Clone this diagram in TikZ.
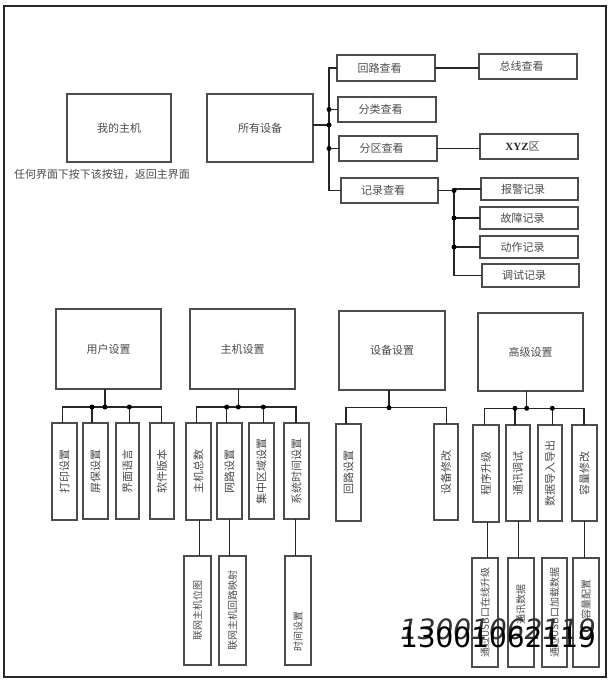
\documentclass[tikz,border=0pt]{standalone}
\usepackage{fontspec}
\setmainfont{Liberation Serif}
\newfontfamily\cjk{Noto Sans CJK SC}
\newfontfamily\wm{DejaVu Sans}
\begin{document}
\begin{tikzpicture}[x=1pt,y=-1pt,
  box/.style={draw=black!70, line width=1.1pt, fill=white, inner sep=0pt, outer sep=0pt,
    font=\cjk\fontsize{11}{13}\selectfont, text=black!70},
  tbox/.style={box, execute at end node={\hspace*{13pt}}},
  vlab/.style={rotate=90, font=\cjk\fontsize{11}{13}\selectfont, text=black!70, inner sep=0pt},
  slab/.style={rotate=90, font=\cjk\fontsize{10}{12}\selectfont, text=black!70, inner sep=0pt},
  wire/.style={draw=black!85, line width=1.2pt},
  jdot/.style={circle, fill=black, inner sep=0pt, minimum size=5pt}
]
\useasboundingbox (0,0) rectangle (615,681);
\draw[line width=1.5pt, black!85] (4,6) rectangle (606,677);

% ---------- top ----------
\node[box, minimum width=104pt, minimum height=68pt] (host) at (119,128) {我的主机};
\node[font=\cjk\fontsize{11}{13}\selectfont, text=black!70, inner sep=0pt] (cap) at (102,174) {任何界面下按下该按钮，返回主界面};
\node[box, minimum width=106pt, minimum height=68pt] (all) at (260,128) {所有设备};

\node[tbox, minimum width=98pt, minimum height=26pt] (loop) at (386,68) {回路查看};
\node[tbox, minimum width=98pt, minimum height=25pt] (bus) at (528,66.5) {总线查看};
\node[tbox, minimum width=98pt, minimum height=25pt] (cls) at (387,109.5) {分类查看};
\node[tbox, minimum width=98pt, minimum height=25pt] (zone) at (388,148.5) {分区查看};
\node[tbox, minimum width=98pt, minimum height=25pt] (xyz) at (529,146.5) {{\rmfamily\bfseries\color{black!85}XYZ}区};
\node[tbox, minimum width=97pt, minimum height=25pt] (rec) at (389.5,190.5) {记录查看};
\node[tbox, minimum width=97pt, minimum height=22pt] (alarm) at (529.5,189) {报警记录};
\node[tbox, minimum width=98pt, minimum height=22pt] (fault) at (529,218) {故障记录};
\node[tbox, minimum width=98pt, minimum height=22pt] (act) at (529,247) {动作记录};
\node[tbox, minimum width=97pt, minimum height=23pt] (dbg) at (530.5,275.5) {调试记录};

\coordinate (tb) at (329,68);
\coordinate (tf) at (329,125);
\draw[wire] (all.east |- tf) -- (tf);
\draw[wire] (loop.west) -- (loop.west -| tb) -- (rec.west -| tb) -- (rec.west);
\draw[wire] (cls.west -| tb) -- (cls.west);
\draw[wire] (zone.west -| tb) -- (zone.west);
\node[jdot] (dt1) at (cls.west -| tb) {};
\node[jdot] (dt2) at (tf) {};
\node[jdot] (dt3) at (zone.west -| tb) {};
\draw[wire] (loop.east) -- (loop.east -| bus.west);
\draw[wire] (zone.east) -- (zone.east -| xyz.west);

\coordinate (sb) at (454,190);
\draw[wire] (rec.east) -- (rec.east -| sb) -- (dbg.west -| sb) -- (dbg.west);
\draw[wire] (alarm.west -| sb) -- (alarm.west);
\draw[wire] (fault.west -| sb) -- (fault.west);
\draw[wire] (act.west -| sb) -- (act.west);
\node[jdot] (dr1) at (rec.east -| sb) {};
\node[jdot] (dr2) at (fault.west -| sb) {};
\node[jdot] (dr3) at (act.west -| sb) {};

% ---------- middle parents ----------
\node[box, minimum width=105pt, minimum height=80pt] (user) at (108.5,349) {用户设置};
\node[box, minimum width=105pt, minimum height=80pt] (hset) at (242.5,349) {主机设置};
\node[box, minimum width=106pt, minimum height=79pt] (dset) at (392,350.5) {设备设置};
\node[box, minimum width=105pt, minimum height=78pt] (aset) at (530.5,352) {高级设置};

% ---------- user group ----------
\node[box, minimum width=25pt, minimum height=97pt] (c1) at (64.5,471.5) {};
\node[box, minimum width=25pt, minimum height=96pt] (c2) at (95.5,471) {};
\node[box, minimum width=23pt, minimum height=96pt] (c3) at (127.5,471) {};
\node[box, minimum width=24pt, minimum height=96pt] (c4) at (162,471) {};
\node[vlab] (c1t) at (c1) {打印设置};
\node[vlab] (c2t) at (c2) {屏保设置};
\node[vlab] (c3t) at (c3) {界面语言};
\node[vlab] (c4t) at (c4) {软件版本};
\coordinate (ub) at (105,407);
\coordinate (u1) at (62.3,407);
\coordinate (u2) at (92,407);
\coordinate (u3) at (129.3,407);
\coordinate (u4) at (161.7,407);
\draw[wire] (ub |- user.south) -- (ub);
\draw[wire] (u1 |- c1.north) -- (u1) -- (u4) -- (u4 |- c4.north);
\draw[wire] (u2) -- (u2 |- c2.north);
\draw[wire] (u3) -- (u3 |- c3.north);
\node[jdot] (ud1) at (u2) {};
\node[jdot] (ud2) at (ub) {};
\node[jdot] (ud3) at (u3) {};

% ---------- host group ----------
\node[box, minimum width=25pt, minimum height=97pt] (h1) at (198.5,471.5) {};
\node[box, minimum width=25pt, minimum height=96pt] (h2) at (229.5,471) {};
\node[box, minimum width=25pt, minimum height=96pt] (h3) at (261.5,471) {};
\node[box, minimum width=25pt, minimum height=96pt] (h4) at (296.5,471) {};
\node[vlab] (h1t) at (h1) {主机总数};
\node[vlab] (h2t) at (h2) {网路设置};
\node[vlab] (h3t) at (h3) {集中区域设置};
\node[vlab] (h4t) at (h4) {系统时间设置};
\coordinate (hb) at (238.3,407);
\coordinate (g1) at (196.7,407);
\coordinate (g2) at (226.7,407);
\coordinate (g3) at (263.3,407);
\coordinate (g4) at (296,407);
\draw[wire] (hb |- hset.south) -- (hb);
\draw[wire] (g1 |- h1.north) -- (g1) -- (g4) -- (g4 |- h4.north);
\draw[wire] (g2) -- (g2 |- h2.north);
\draw[wire] (g3) -- (g3 |- h3.north);
\node[jdot] (hd1) at (g2) {};
\node[jdot] (hd2) at (hb) {};
\node[jdot] (hd3) at (g3) {};

\node[box, minimum width=27pt, minimum height=109pt] (s1) at (197.5,610.5) {};
\node[box, minimum width=27pt, minimum height=109pt] (s2) at (232.5,610.5) {};
\node[box, minimum width=26pt, minimum height=109pt] (s4) at (298,610.5) {};
\node[slab] (s1t) at (s1) {联网主机位图};
\node[slab] (s2t) at (s2) {联网主机回路映射};
\node[slab] (s4t) at (298,631) {时间设置};
\coordinate (k1) at (199.3,540);
\coordinate (k2) at (229.3,540);
\coordinate (k4) at (295.7,540);
\draw[wire] (k1 |- h1.south) -- (k1 |- s1.north);
\draw[wire] (k2 |- h2.south) -- (k2 |- s2.north);
\draw[wire] (k4 |- h4.south) -- (k4 |- s4.north);

% ---------- device group ----------
\node[box, minimum width=25pt, minimum height=97pt] (d1) at (348.5,472.5) {};
\node[box, minimum width=24pt, minimum height=96pt] (d2) at (446,472) {};
\node[vlab] (d1t) at (d1) {回路设置};
\node[vlab] (d2t) at (d2) {设备修改};
\coordinate (db) at (389,407.7);
\coordinate (e1) at (346,407.7);
\coordinate (e2) at (446.7,407.7);
\draw[wire] (db |- dset.south) -- (db);
\draw[wire] (e1 |- d1.north) -- (e1) -- (e2) -- (e2 |- d2.north);
\node[jdot] (dd1) at (db) {};

% ---------- advanced group ----------
\node[box, minimum width=26pt, minimum height=97pt] (a1) at (486,473.5) {};
\node[box, minimum width=24pt, minimum height=96pt] (a2) at (518,473) {};
\node[box, minimum width=24pt, minimum height=96pt] (a3) at (550,473) {};
\node[box, minimum width=25pt, minimum height=96pt] (a4) at (584.5,473) {};
\node[vlab] (a1t) at (a1) {程序升级};
\node[vlab] (a2t) at (a2) {通讯调试};
\node[vlab] (a3t) at (a3) {数据导入导出};
\node[vlab] (a4t) at (a4) {容量修改};
\coordinate (ab) at (526.7,408.3);
\coordinate (f1) at (484.3,408.3);
\coordinate (f2) at (515,408.3);
\coordinate (f3) at (552.3,408.3);
\coordinate (f4) at (584,408.3);
\draw[wire] (ab |- aset.south) -- (ab);
\draw[wire] (f1 |- a1.north) -- (f1) -- (f4) -- (f4 |- a4.north);
\draw[wire] (f2) -- (f2 |- a2.north);
\draw[wire] (f3) -- (f3 |- a3.north);
\node[jdot] (ad1) at (f2) {};
\node[jdot] (ad2) at (ab) {};
\node[jdot] (ad3) at (f3) {};

\node[box, minimum width=26pt, minimum height=109pt] (b1) at (485,612.5) {};
\node[box, minimum width=26pt, minimum height=109pt] (b2) at (521,612.5) {};
\node[box, minimum width=25pt, minimum height=109pt] (b3) at (554.5,612.5) {};
\node[box, minimum width=26pt, minimum height=109pt] (b4) at (586,612.5) {};
\node[slab] (b1t) at (b1) {通过USB口在线升级};
\node[slab] (b2t) at (521,604) {通讯数据};
\node[slab] (b3t) at (b3) {通过USB口加载数据};
\node[slab] (b4t) at (586,599) {容量配置};
\coordinate (m1) at (487.3,540);
\coordinate (m2) at (518.3,540);
\coordinate (m4) at (584.3,540);
\draw[wire] (m1 |- a1.south) -- (m1 |- b1.north);
\draw[wire] (m2 |- a2.south) -- (m2 |- b2.north);
\draw[wire] (m4 |- a4.south) -- (m4 |- b4.north);

% ---------- watermark ----------
\node[font=\wm\itshape\fontsize{28}{28}\selectfont, text=black!80, inner sep=0pt] (wm1) at (498,629) {13001062119};
\node[font=\wm\fontsize{28}{28}\selectfont, text=black, inner sep=0pt] (wm2) at (498,637) {13001062119};
\end{tikzpicture}
\end{document}
